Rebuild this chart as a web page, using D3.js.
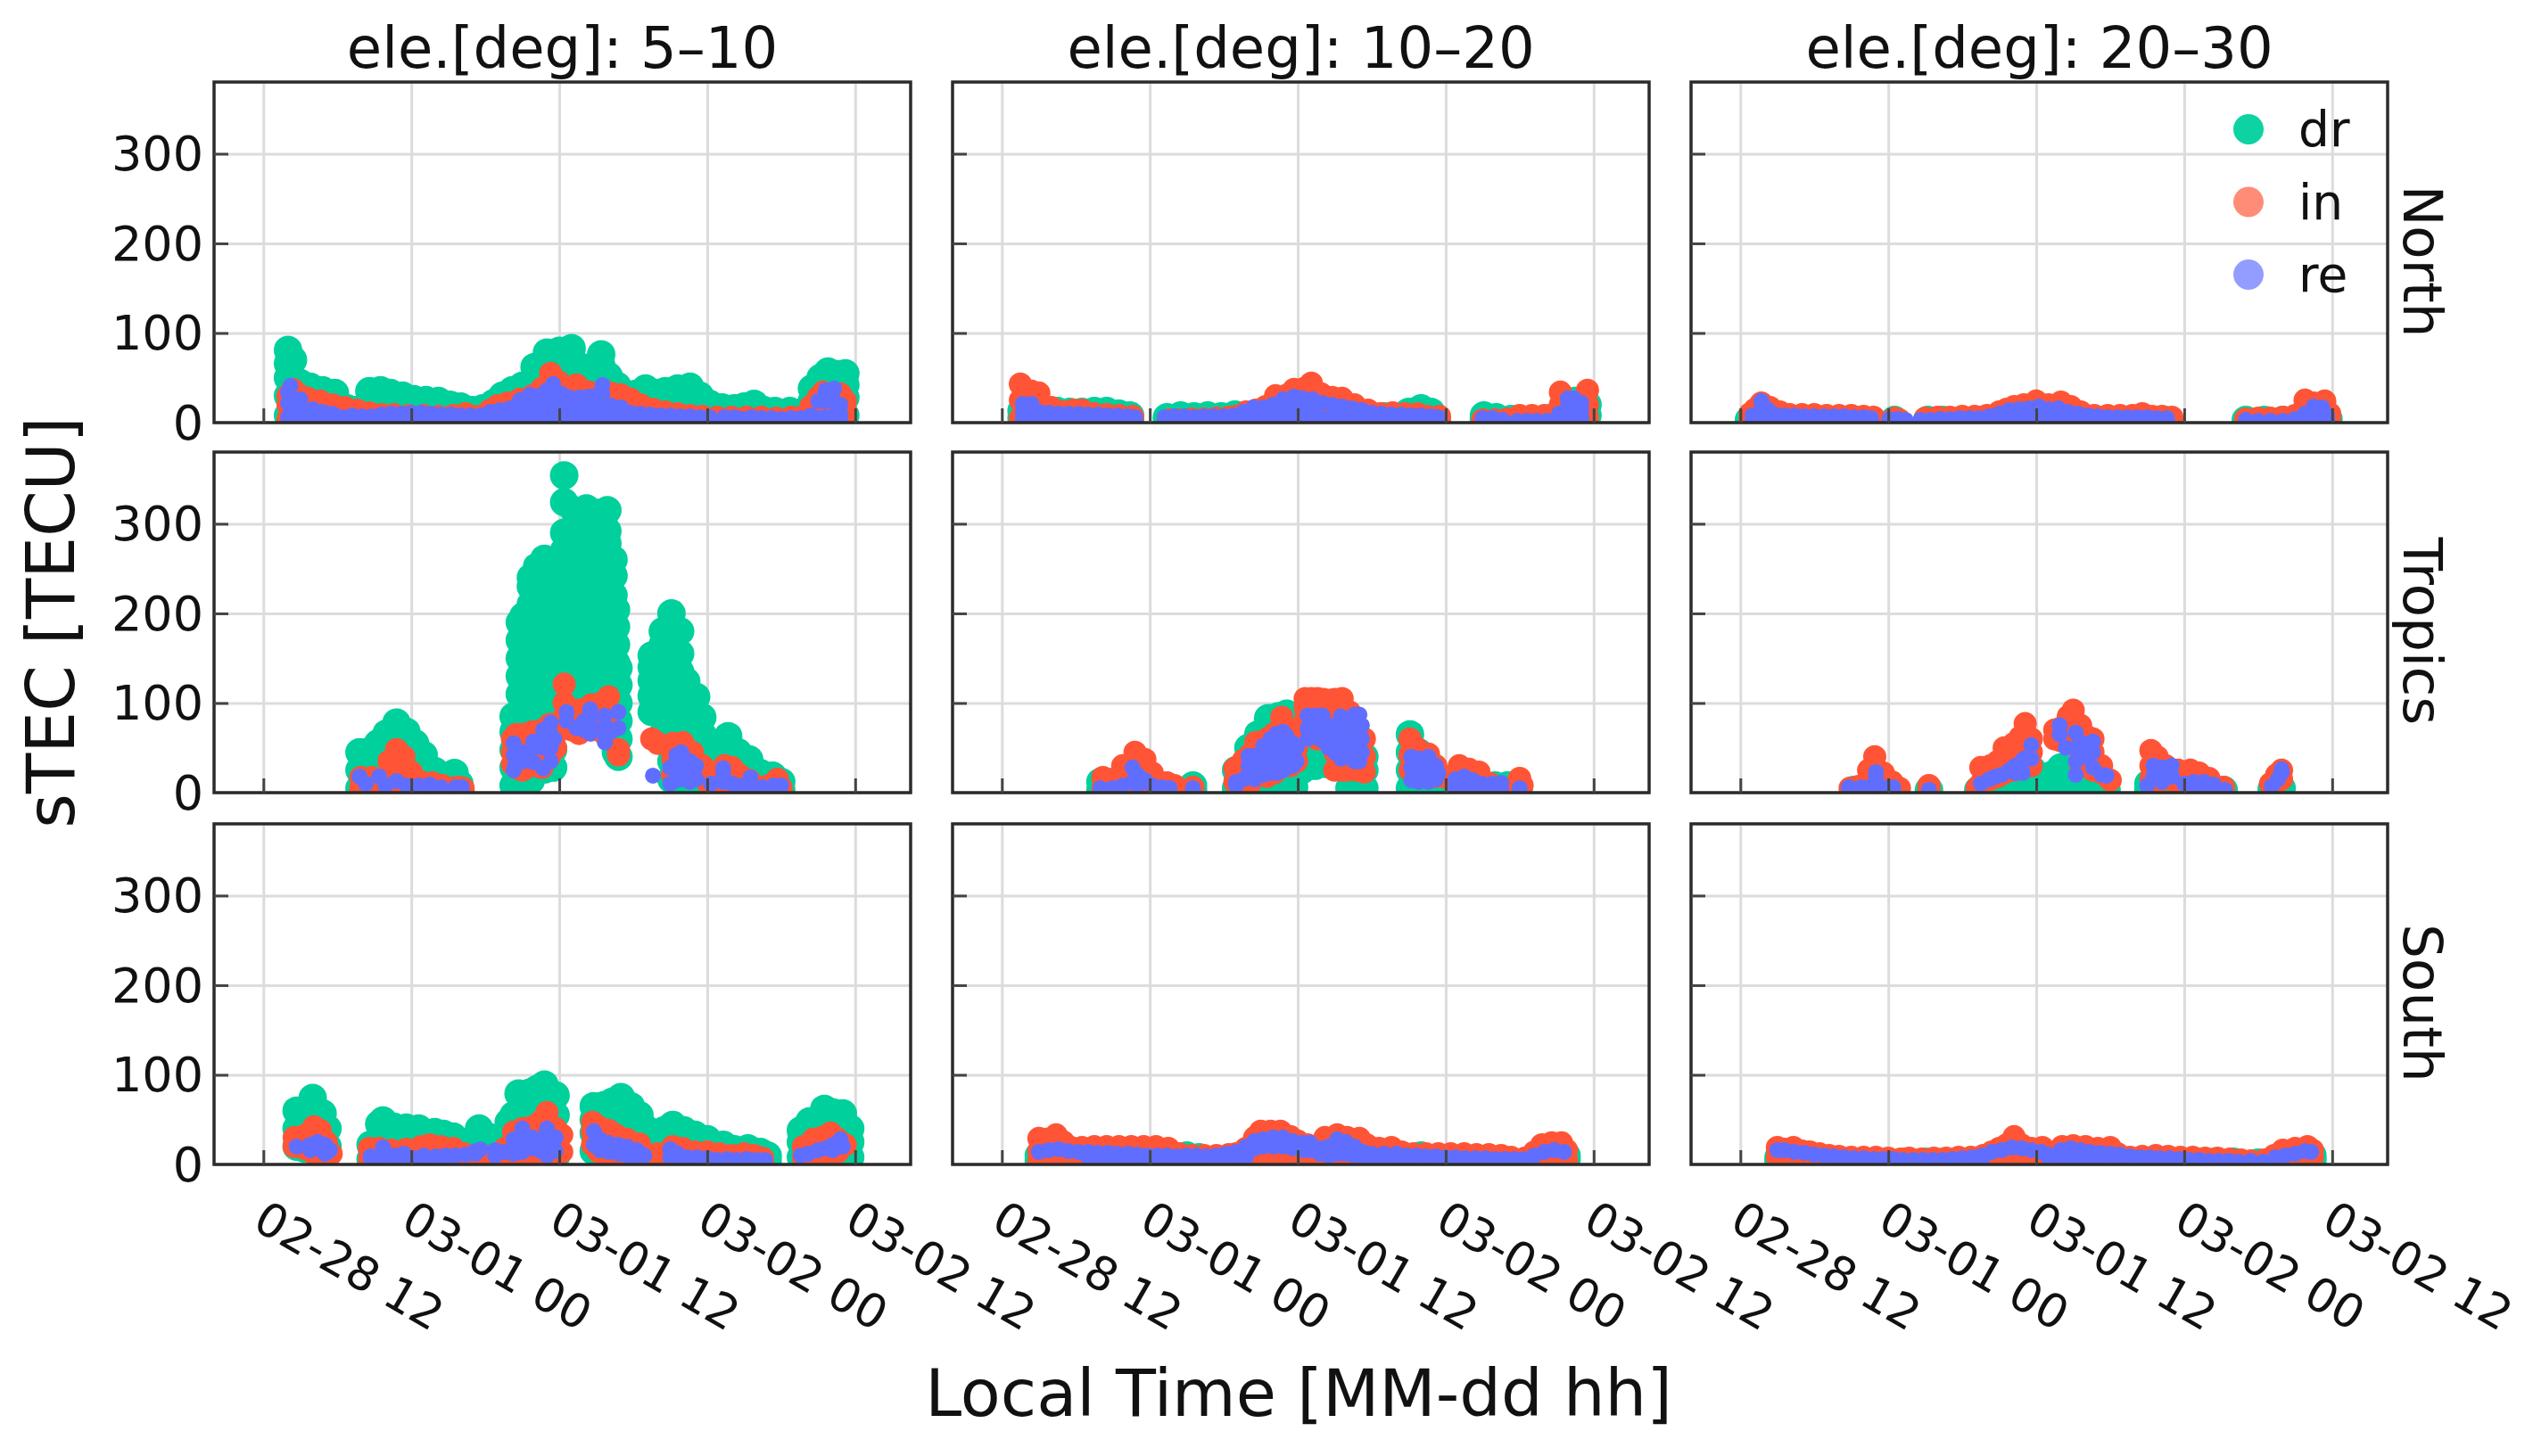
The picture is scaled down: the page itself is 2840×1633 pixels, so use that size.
<!DOCTYPE html>
<html>
<head>
  <title>sTEC</title>
  <style type="text/css">
    body { margin: 0; background: #fff; }
    text { font-family: 'DejaVu Sans', sans-serif; fill: #111; }
  </style>
  <script src="https://cdnjs.cloudflare.com/ajax/libs/d3/7.8.5/d3.min.js" charset="utf-8"></script>
</head>
<body>
<svg id="chart" width="2840" height="1633"></svg>
<script>

  // ====== data: each row is [hours after 02-28 12:00, sTEC values seen at that time]
  var rowNames = ["North", "Tropics", "South"];
  var colNames = ["ele.[deg]: 5\u201310", "ele.[deg]: 10\u201320", "ele.[deg]: 20\u201330"];
  var seriesNames = ["dr", "in", "re"];
  var yTicks = [0, 100, 200, 300];

  var north5dr = [[2,8,30,50,66,81],[2.4,6,30,50,70],[3,6,28,44],[3.8,8,24,40],[4.8,6,24,36],[5.8,7,20,33],[6.8,5,16],[7.4,5,14],[8.6,6,20,35],[9.5,5,20,36],[10.3,7,18,33],[11.3,6,18,30],[12.2,5,26],[13.2,6,25],[14.2,5,24],[15.1,6,20],[16,5,18],[16.9,6,14],[17.8,5,16],[18.7,7,22],[19.4,6,30],[20.2,6,22,36],[21,8,26,41],[22,7,30,50,62],[23,8,30,50,65,78],[24,9,30,50,65,80],[25,7,30,50,66,83],[25.8,10,30,50,62],[26.6,8,30,45,60],[27.4,7,28,50,64,76],[28,8,28,52],[28.7,6,25,41],[29.5,6,20,30],[30.2,7,22,32],[31,5,22,38],[31.8,6,20,33],[32.6,7,20,35],[33.6,5,22,38],[34.6,6,24,40],[35.4,7,20,30],[36.2,6,21],[37.2,5,17],[38.2,6,16],[39,5,18],[39.8,6,21],[40.6,5,14],[41.5,6,13],[42.7,5,13],[43.9,6,13],[44.5,7,24,38],[45.2,8,28,50],[45.8,7,28,45,57],[46.6,6,30,54],[47.2,8,28,42,55]];
  var north5in = [[2,4,20,30],[2.4,6,24,37],[3,5,20,30],[3.6,5,18,27],[4.6,4,14,24],[5.6,4,13,20],[6.6,3,10,17],[7.6,4,14],[8.6,3,11],[9.6,4,9],[10.6,3,9],[11.8,4,8],[13,3,8],[14.2,4,7],[15.4,3,8],[16.4,4,10],[17.4,3,7],[18.4,4,14],[19,4,19],[19.8,4,14,22],[20.8,5,16,26],[21.8,4,18,30],[22.6,5,24,38],[23.3,6,24,42,55],[24,4,20,36,45],[24.8,6,22,36],[25.4,4,22,42],[26.4,5,20,34],[27.6,6,20,36],[28.4,5,18,32],[29,4,16,31],[29.8,5,14,26],[30.6,4,12,20],[31.6,4,15],[32.6,3,12],[33.6,4,10],[34.6,3,8],[35.6,4,7],[36.8,3,6],[38,3,6],[39.2,4,6],[40.4,3,6],[41.6,3,5],[42.8,4,6],[43.6,3,6],[44.4,4,18],[45,4,20,28],[45.4,5,22,34],[46,6,18,28],[46.8,4,22,32],[47.2,4,14,24]];
  var north5re = [[2,6,22,34],[2.2,10,28,41],[3,5,14,26],[3.4,5,10],[4,6,15],[4.8,5,12],[5.6,4,10],[6.4,3,6],[7.2,4,8],[8,3,7],[8.8,4,7],[9.6,3,9],[10.4,4,10],[11.2,3,10],[12,4,11],[12.8,3,11],[13.6,4,10],[14.4,3,9],[15.2,4,9],[16,3,8],[16.8,4,8],[17.6,3,8],[18.4,4,12],[19.2,4,14],[20,5,16],[20.8,5,14,25],[21.6,6,18,31],[22.4,5,16,30],[23,6,20,36],[23.5,6,22,36,43],[24.2,5,18,32],[24.8,6,16,28],[25.6,5,14,28],[26.4,6,18,29],[27,5,18,30],[27.5,4,20,32,42],[28.2,5,12,19],[29,4,12,17],[29.8,5,11],[30.6,4,10],[31.4,4,9],[32.2,3,8],[33,4,8],[33.8,3,7],[34.6,4,7],[35.4,3,6],[36.2,4,6],[37.4,3,6],[38.2,4,6],[38.8,3,4],[39.6,3,6],[40.4,4,5],[41.2,3,5],[42,3,4],[42.8,3,5],[43.6,3,5],[44.4,4,8],[45,5,24],[45.6,6,24,36],[46.3,8,24,38],[46.8,3,10,20]];

  var north10dr = [[1.6,5,13],[2.4,5,14],[3.4,4,12],[4.5,5,13],[5.5,4,12],[6.5,5,12],[7.5,4,13],[8.5,5,13],[9.5,4,10],[10.4,4,8],[13.4,4,6],[14.5,4,8],[15.6,3,7],[16.7,4,8],[17.8,3,7],[18.9,4,9],[20,4,7],[21.5,3,6],[23,4,7],[24.5,4,8],[26,3,7],[27.5,4,6],[29,3,6],[31,4,7],[33,3,12],[34,4,16],[34.8,4,12],[39.1,4,8],[40.1,3,6],[41.3,4],[43,3],[44.5,5],[45.5,10],[46.5,10,24],[47.5,8,20]];
  var north10in = [[1.5,5,25,43],[2.4,6,22,35],[3,6,20,33],[4,5,17],[5,5,12],[5.8,4,14],[6.5,5,14],[7.5,4,10],[8.5,5,9],[9.5,4,8],[10.6,4,7],[13.6,3],[14.4,3],[15.4,3,4],[16.4,4],[17.4,5],[18.4,6],[19,7],[19.8,4,12],[20.6,5,14],[21.4,5,18],[22.2,6,16,30],[23,6,18,30],[23.7,6,20,37],[24.5,6,22,38],[25.1,5,25,44],[25.9,6,20,32],[26.8,5,18,28],[27.6,5,16,27],[28.6,4,20],[29.7,5,14],[30.7,4,10],[31.7,5,11],[32.7,4,10],[33.7,4,10],[34.5,4,7],[35.5,3,7],[39,3],[40,3],[41,4],[42,4,8],[43,3,8],[44,4,8],[44.6,3,8],[45.3,6,20,34],[46.2,4,12],[47.5,6,20,36]];
  var north10re = [[1.7,5,12,21],[2.4,5,18,21],[3,5,12],[3.8,4,11],[4.6,5,10],[5.4,4,10],[6.2,5,10],[7,4,9],[7.8,5,9],[8.6,4,8],[9.4,4,8],[10.2,4,7],[10.8,3,6],[13.2,3,6],[14,3,7],[14.8,3,7],[15.6,3,6],[16.4,3,7],[17.2,3,7],[18,3,7],[18.8,3,8],[19.6,4,12],[20.4,4,17],[21.2,4,17],[22,5,20],[22.8,5,18,26],[23.7,5,20,29],[24.4,5,18,27],[25.2,5,18,26],[26,5,22],[26.8,5,20],[27.6,5,18],[28.4,4,16],[29.2,4,14],[30,4,11],[30.8,4,10],[31.6,4,9],[32.4,4,9],[33.2,4,8],[34,3,8],[34.8,3,7],[35.4,3,6],[39,3,5],[39.8,3,5],[40.6,3],[41.8,2],[42.6,2],[43.4,2],[44.2,2],[45.2,5,10],[45.9,8,18,27],[46.4,6,14,27],[47,5,14,22]];

  var north20dr = [[0.7,3],[2,4],[3.2,3],[4.4,3],[5.6,3],[6.8,3],[8,3],[9,3],[9.8,3],[12.5,3],[15.2,3],[16.4,3],[18,3],[19.5,3],[21,4],[22.5,4],[24,4],[25.5,4],[27,3],[28.5,3],[30,3],[31.5,3],[33,3],[34.4,3],[41,3],[42.5,3],[44,3],[45.5,3],[47,3],[47.7,4]];
  var north20in = [[0.8,4,10],[1.2,5,15],[1.7,5,22],[2.4,5,17],[3.2,4,12],[4,4,9],[5,5,9],[6,4,9],[7,5,8],[8,4,8],[9,5,8],[10,4,7],[10.8,3,6],[12.5,5],[12.9,3],[15,3,5],[16,3,6],[17,4,6],[18,3,7],[19,4,7],[20,4,8],[21,5,12],[21.6,4,15],[22.2,5,18],[23,5,20],[24,5,24],[25,5,20],[26,5,23],[26.8,4,18],[27.6,5,12],[28.7,4,8],[29.8,4,8],[30.8,4,8],[31.8,5,8],[32.6,4,10],[33.4,4,7],[34.2,4,7],[35,3,6],[41,4],[42,5],[43,5],[44,4,6],[45,5,8],[45.8,8,18,25],[46.5,8,18,22],[47.4,8,18,24],[47.8,4,10]];
  var north20re = [[1,3,8],[1.7,5,15,24],[2.2,6,15],[2.8,5,9],[3.6,5,8],[4.4,5,8],[5.2,4,7],[6,5,7],[6.8,4,7],[7.6,4,7],[8.4,5,7],[9.2,4,6],[10,4,6],[10.6,3,5],[12.1,4],[12.8,4],[13.4,3],[14.6,3],[15.4,3],[16.2,4],[17,4],[17.8,5],[18.6,4,5],[19.4,5],[20.2,5,7],[21,5,10],[21.8,5,14],[22.6,5,15],[23.4,5,16],[24.2,5,18],[25,5,15],[25.8,5,16],[26.6,5,12],[27.4,5,10],[28.2,4,8],[29,4,7],[29.8,4,6],[30.6,4,6],[31.4,4,6],[32.2,3,6],[33,4,6],[33.8,3,5],[34.6,3,5],[41,3],[42,2],[43,2],[44,2],[45,4],[45.8,5,10],[46.5,5,12,18],[47.2,5,12,17],[47.6,3,8]];

  var tropics5dr = [[7.8,5,25,45],[8.6,4,24,46],[9.3,6,30,55],[10,5,30,50,66],[10.8,6,30,50,65,78],[11.6,5,28,48,68],[12.3,6,30,55],[13,5,25,42],[13.9,5,24],[14.7,4,18],[15.5,5,22],[15.9,4,10],[20.3,8,28,48,68,85],[20.8,10,30,50,70,90,110,130,150,170,190],[21.1,12,32,52,72,92,112,132,152,172,197],[21.7,14,30,50,70,90,110,130,150,170,190,210,230,240],[22.2,26,45,65,85,105,125,145,165,185,205,225,245,252],[22.8,26,46,66,86,106,126,146,166,186,206,226,246,261],[23.5,28,48,68,88,108,128,148,168,188,208,228,248,258],[24.4,110,130,150,170,190,210,230,250,270,290,324,354],[25.2,75,95,115,135,155,175,195,215,235,255,275,295,315],[26.2,80,100,120,140,160,180,200,220,240,260,280,300,317],[27,80,100,120,140,160,180,200,220,240,260,280,300,312],[27.9,78,98,118,138,158,178,198,218,238,258,278,292,315],[28.4,60,80,100,120,140,160,180,200,220,242,260],[28.6,45,65,85,105,125,145,165,185,204],[28.8,40,60,80,100,120,139],[31.5,90,108,125,140,153],[32.4,65,85,105,125,145,165,180],[33.1,15,35,55,75,95,115,135,155,175,200],[33.8,15,35,55,75,95,115,135,155,180],[34.3,10,30,50,70,90,110,124],[35.1,5,25,45,65,85,107],[35.6,5,25,45,65,84],[36.6,4,22,40],[37.2,5,25,45,55],[37.7,5,25,45,63],[38.5,5,25,45],[39.4,4,20,37],[40.3,5,22],[41.3,4,19],[42,3,12]];
  var tropics5in = [[7.9,5,17],[8.8,4,17],[9.5,3,12],[10.2,6,22,35],[10.8,10,30,48],[11.4,8,25,40],[12,6,23],[12.8,4,12],[13.7,4,11],[14.5,3,8],[15.3,3,5],[15.8,3,6],[16.2,3,5],[20.2,32,45,60],[20.5,28,45,65],[21,25,45,65],[21.8,30,50,68],[22.6,28,50,70],[23.2,40,60,76],[23.7,50,65,76],[24.4,85,100,121],[25,70,85],[25.6,66,80,92],[26.6,70,85,98],[27.4,70,85,100],[27.7,65],[28,75,90,107],[28.8,42,48],[31.5,60],[32,55],[33.2,20,38,55],[34,20,38,56],[34.8,22,38,45],[35.6,18,30],[36,12,20],[36.8,8,20],[37.4,12,30],[38,6,18,28],[38.6,6,20],[39.4,5,14],[40.2,5,6],[41,8],[41.7,6,15],[42,5]];
  var tropics5re = [[7.8,18],[8.3,10],[9.4,18],[9.9,8],[10.8,13],[11.6,8],[12.6,8],[13.5,9],[14.4,6],[15.6,6],[16.1,6],[20.3,25,42,55],[20.4,30],[21.1,35,45],[21.9,34,50,57],[22.7,27,50,62,70],[23.3,35,50,65,78],[23.6,60],[24.6,80,90],[25.4,72],[26,70,80],[26.5,66,75,85,93],[27.7,56,65,75,86],[28.2,68],[28.8,72,90],[31.6,19],[33,10,28],[33.5,14,30,42],[33.9,15,30,45],[34.6,12,25,35],[35.1,15,30],[36.3,10],[37.3,12,20,27],[38,10],[38.5,8],[39.5,8,17],[40.5,6],[41.4,8],[42,8]];

  var tropics10dr = [[8,3,12],[10.2,4,12],[12.9,3,8],[15.5,3,8],[19,5,25],[20,6,30,50],[20.8,8,30,50,65],[21.6,8,30,50,70,83],[22.4,6,26,50,70,85],[23.1,5,30,50,70,88],[23.7,6,30,50,70,84],[24.3,25,45,65],[25.4,30,50,70],[26.4,32,52,70],[27.4,30,50,70],[28.2,5,26,48,68],[29,6,26,46],[29.4,5,25,40],[33.1,5,25,45,65],[33.8,5,25,45],[35,4,22],[36,3,15],[37,3,10],[38,3,10],[39,2,8],[40,3,8],[41,3,8],[41.9,3,5]];
  var tropics10in = [[8.2,5,17],[9,4,15],[9.8,5,22,30],[10.8,8,25,45],[11.6,7,24,37],[12.2,5,22],[13.4,4,11],[14,4,8],[15.5,6],[18.9,12,27],[19.6,8,24,36],[20.1,10,25,42],[20.6,20,38,56],[21.5,18,38,60],[22.1,22,42,66],[22.7,30,50,70,84],[23.4,30,50,70],[23.9,35,50,65],[24.6,80,95,105],[25.1,70,90,105],[25.6,60,80,105],[26.1,70,90,104],[26.6,70,90,103],[27,25,45,65,85,104],[27.6,25,45,60,80,105],[28,25,45,65],[28.2,30,50,70,90],[28.8,25,45,65],[29.4,23,40,60],[33.1,25,42,60],[33.6,20,35,50],[34.6,18,30,43],[35.2,18,30],[36,17],[37.1,5,18,30],[37.9,4,15,26],[38.7,5,23],[39.6,3,10],[41,5],[42,4,16],[42.2,8]];
  var tropics10re = [[8,5],[9,5],[9.8,8],[10.6,12,28],[11,8,20],[11.6,14],[12.2,8],[13,6],[13.6,5],[15.5,5],[19,8,12],[19.6,15],[20,20,30,41],[20.5,15,28,41],[20.8,22,35],[21.2,20,30,45,52],[21.8,22,35,48,60],[22.3,22,35,50,66],[22.8,25,40,55,68],[23.1,28,40,52,63],[23.6,30,42,55],[23.9,35,50],[24.8,60,72,86],[25.4,62,75,86],[26,58,72,86],[26.5,50,62,75],[27,45,58,70],[27.5,38,50,62,75,85],[28,40,50,65],[28.6,35,48,60,75,87],[29,35,50,65,87],[29.2,45,60,75],[33.2,14,28,40],[33.8,12,25,38],[34.6,12,25,40],[35.2,15,30],[35.4,22],[36.8,6,15],[37.5,8,18],[38.2,6,14],[39,5,10],[39.8,5,10],[40.5,5,11],[42,5]];

  var tropics20dr = [[9.2,3],[10,3],[11,4],[12,3],[15.3,3],[19.3,3],[20.2,4],[21,4],[22,4],[23,6,20],[23.7,10,25],[25.3,6,20],[26,8,28],[27,8,26],[28,5,15],[29,4,12],[29.7,3],[33.1,3,10],[34,3,8],[35,3,8],[36,3],[37,3],[38,3],[39.2,3],[43.1,4],[43.5,7],[43.9,5]];
  var tropics20in = [[8.9,5],[9.6,7],[10.4,10,25],[10.9,15,28,40],[11.6,8,22],[12.3,5,12],[12.9,5],[15.3,5,8],[19.2,5],[19.5,10,28],[20.3,15,30],[20.9,18,35],[21.4,22,38,50],[22.2,25,45,55],[22.7,28,48,62],[23.1,30,50,62,77],[23.6,30,45,60],[25.5,60,70],[26,58,72],[26.6,55,72,85],[27,60,80,92],[27.6,30,45,60,75],[28.2,30,50,62],[28.6,25,45,60],[29.3,22,30],[30,14],[33.3,15,30,47],[33.8,12,28,40],[34.5,15,30],[35.5,10,25],[36.5,8,25],[37.2,8,22],[38,8,16],[39.2,6],[43,10],[43.5,12,20],[43.9,15,25]];
  var tropics20re = [[8.8,6],[9.8,6],[10.6,7],[11,10,16,23],[11.9,6],[12.4,6],[15.3,3],[19.5,10],[20.2,15],[20.7,18],[21.2,20],[21.8,25],[22.3,22,30],[22.9,22,35],[23,38],[23.6,38,53],[25.9,65,75],[26.4,50],[27.2,20,35,50,67],[27.8,40,55],[28.6,28,45,57],[29.3,20],[29.7,19],[33,8],[33.5,18,30],[34.2,12,28],[35,18,30],[36,10],[36.8,9,12],[37.6,8,12],[38.4,9],[39.3,3],[43.1,7],[43.6,15],[43.9,22,26]];

  var south5dr = [[2.7,20,40,60],[3.3,18,40,60],[4,20,40,60,74],[4.8,22,40,57],[5.2,20,40],[8.7,6,22],[9.4,6,25,45],[9.7,8,30,49],[10.6,6,28,42],[11.6,8,26,41],[12.6,6,24,40],[13.9,7,25,36],[14.6,6,22,34],[15.4,5,20,31],[16.5,6,18,25],[17.5,8,25,40],[18.4,6,20,30],[19.9,8,28,47],[20.3,10,30,55],[20.7,12,35,55,79],[21.6,10,35,60,80],[22.2,8,30,55,84],[22.8,10,35,60,89],[23.7,8,30,55,77],[26.8,15,35,50,65],[27.6,14,32,50,66],[28.3,12,30,50,70],[29,12,30,55,75],[29.8,8,30,50,65],[30.5,8,25,45,55],[31,6,25,40],[32.5,6,25,38],[33.2,6,25,44],[34.1,6,22,38],[35,6,20,33],[36,5,20,28],[37.3,5,22],[38.2,5,17],[39.3,5,18],[40.3,5,14],[40.9,4,10],[43.6,8,25,38],[44.3,10,28,48],[45.5,8,30,50,62],[46.2,10,30,50,58],[47,10,30,50,57],[47.6,8,25,40]];
  var south5in = [[2.5,20,30],[3.3,18,32],[4.1,12,30,42],[4.6,12,28,38],[5.1,8,25],[5.5,12],[8.6,6,18],[9.4,6,18],[10.4,6,16],[11.6,6,17],[12.8,8,20],[13.5,8,22],[14.4,8,20],[15.4,6,18],[16.3,6,12],[17.6,5,10],[18.6,5,10],[19.6,5,18],[20.3,5,20,36],[21,5,22,40],[21.8,6,25,42],[22.5,6,28,48],[23,25,42,58],[23.7,10,30,40],[24.2,14,33],[26.7,22,36,47],[27.2,14,30,42],[28,12,28,38],[28.6,10,25,33],[29.5,10,25,28],[30.5,8,20,23],[31,8,12],[32,3,12],[33.2,6,20],[34,6,18],[35,5,14],[36,4,14],[37,5,12],[38,4,10],[39,6,12],[39.8,4,10],[40.5,3,7],[43.8,8,20],[44.6,8,22,28],[45.3,8,22,30],[46,10,24,35],[46.6,14,28],[47.2,22]];
  var south5re = [[2.7,20],[3.8,16,22],[4.4,18,25],[5,12,22],[5.4,16],[8.7,7,9],[9.7,7,14,19],[10.6,7,10],[11.4,8,12],[12.2,7],[13,8,10],[14,8,9],[14.8,9,10],[15.6,10],[16.4,11],[17.2,12,15],[17.6,17],[18.8,10,16],[19.6,14],[20.3,12,20,28],[21,14,28,40],[21.8,18,30],[22.5,15,28],[23,10,25,40],[23.7,15,30],[26.8,22,37],[27.3,16,28],[28,14,24],[28.8,12,22],[29.5,10,20],[30.3,9,16],[30.9,10],[33,8,17],[33.6,6,12],[34.4,5,8],[35.2,6,8],[36,5,7],[36.8,5],[37.6,6],[38.4,5],[39.2,5,6],[40,5],[40.7,5],[43.6,10],[44.2,12],[45,16],[45.6,18],[46.2,16,22],[46.8,22,28],[47,20]];

  var south10dr = [[3,4,10],[4,3,8],[5,3,6],[6,3],[7.4,3],[9,3],[10.6,3],[12,3],[13.5,4],[15,6,10],[16,5,8],[17.4,3],[19,3],[20.5,3],[22,4],[23.2,5],[24.4,6],[25.6,5],[26.6,4],[28,3],[29.5,4],[31,4],[32.5,5,10],[34,5,10],[35,4],[36.5,3],[38,3],[39.5,3],[41,3],[42.5,3],[44,4],[45,5,8],[45.8,6,10]];
  var south10in = [[3,4,15,29],[3.6,4,18,28],[4.4,4,20,33],[5,4,14,25],[5.6,3,12,19],[6.5,3,19],[7.5,4,20],[8.5,4,20],[9.5,3,20],[10.5,4,20],[11.5,4,20],[12.5,4,20],[13.5,5,18],[14.4,5,12],[15.4,5,10],[16.4,5,10],[17.4,4,10],[18.4,4,11],[19,5,12],[19.8,4,18],[20.5,4,20,30],[21,12,22,37],[21.8,12,20,37],[22.6,12,22,37],[23.4,12,20,31],[24,12,20,26],[24.8,10,14,22],[25.6,5,12,20],[26.2,3,18,30],[27.2,5,20,33],[28,5,22,30],[29,5,16,29],[29.6,5,15,22],[30.6,6,18],[31.6,5,19],[32.4,5,14],[33.4,5,12],[34.4,4,12],[35.4,4,12],[36.4,4,12],[37.5,4,12],[38.5,4,11],[39.5,5,11],[40.5,4,10],[41.3,5,8],[42.4,5,7],[43.2,5,14],[43.8,6,22],[44.6,8,24],[45.4,8,24],[45.8,5,16]];
  var south10re = [[3,14],[3.8,16],[4.6,17],[5.4,15],[6.2,14],[7,8,14],[7.8,8,13],[8.6,8,13],[9.4,8,12],[10.2,8,12],[11,8,11],[11.8,8,10],[12.6,8,10],[13.4,7,10],[14.2,6,9],[15,5,10],[15.8,5,10],[16.6,5,9],[17.4,5,10],[18.2,5,12],[19,5,14],[19.8,8,20],[20.5,18,26],[21.2,20,28],[22,20,30],[22.8,20,30],[23.6,18,26],[24.4,16,24],[25,16,24],[25.8,12,18],[26.5,10,20],[27.2,12,28],[27.9,12,25],[28.6,10,20],[29.3,10,14],[30,8,12],[31,7,12],[32,6,12],[32.8,5,10],[33.6,5,10],[34.4,5,9],[35.2,5,9],[36,5,8],[36.8,5,8],[37.6,5,7],[38.4,4,7],[39.2,4,7],[40,4,6],[40.8,4,6],[41.6,3,6],[42.4,4,6],[43.2,10],[44,14],[44.8,16],[45.6,14]];

  var south20dr = [[3.1,4,8],[4,3,6],[5,3],[6,3],[7.5,3],[9,3],[10.5,3],[12,3],[13.5,3],[15,3],[16.5,3],[18,3],[19.5,3],[21,5,10],[22.2,8,14],[23.2,10],[24.4,5,14],[25,4],[26.5,3],[28,3],[29.5,3],[31,3],[32.5,3],[34,3],[35.5,3],[37,3],[38.5,3],[40,3],[42,2],[43.5,3],[45,4],[46.4,5,10]];
  var south20in = [[3,8,19],[3.6,8,17],[4.3,6,19],[5,5,15],[5.6,4,14],[6.4,3,12],[7.2,4,10],[8,3,9],[9,8],[10,6,8],[11,5,8],[12,5,7],[13,5,6],[13.7,4,7],[14.7,5,6],[15.7,5,7],[16.7,5,7],[17.7,6,8],[18.7,6,8],[19.7,6,10],[20.4,10,14],[21,10,18],[21.6,10,22],[22.2,12,31],[22.8,10,22],[23.6,12,18],[24.5,10,19],[25.2,8,12],[26.1,6,20],[27,5,21],[28,4,20],[29,4,18],[30,4,19],[30.6,4,12],[31.6,4,8],[32.6,4,9],[33.7,4,10],[34.7,4,9],[35.7,4,8],[36.7,3,8],[37.7,4,7],[38.7,3,7],[39.7,3,6],[40.6,3,5],[41.4,4],[42.5,5],[43.3,5,10],[44,5,16],[45,8,18],[46,8,20],[46.4,8,16]];
  var south20re = [[3,16],[3.6,16],[4.4,14],[5.2,13],[6,11],[6.8,10],[7.6,9],[8.4,8],[9.2,5,7],[10,5,7],[10.8,5,6],[11.6,5,6],[12.4,5,6],[13.2,4,5],[14,4,5],[14.8,4,5],[15.6,4,5],[16.4,5],[17.2,5,6],[18,5,7],[18.8,6,8],[19.6,6,10],[20.4,14],[21.2,16],[22,19],[22.8,18],[23.6,16],[24.4,14],[25,8,11],[26,8,16],[26.8,8,18],[27.6,8,16],[28.4,7,14],[29.2,6,13],[30,6,12],[30.8,5,11],[31.6,5,9],[32.4,4,8],[33.2,4,8],[34,4,7],[34.8,4,7],[35.6,4,6],[36.4,3,5],[37.2,3,5],[38,3,4],[38.8,3,4],[39.6,3,4],[40.4,3],[41.4,3,4],[42.4,3],[43.4,8],[44.2,10],[45,12],[45.8,15],[46.3,14]];

  var panels = [
    [[north5dr, north5in, north5re], [north10dr, north10in, north10re], [north20dr, north20in, north20re]],
    [[tropics5dr, tropics5in, tropics5re], [tropics10dr, tropics10in, tropics10re], [tropics20dr, tropics20in, tropics20re]],
    [[south5dr, south5in, south5re], [south10dr, south10in, south10re], [south20dr, south20in, south20re]]
  ];

  // ====== layout
  var colX = [240, 1068, 1896], panelW = 781;
  var rowY = [92, 507, 924], panelH = 382;
  var colors = { dr: "#00d09c", "in": "#ff5536", re: "#606eff" };
  var radius = { dr: 16, "in": 13, re: 9 };

  var tickStart = Date.UTC(2022, 1, 28, 12);
  var x = d3.scaleUtc()
    .domain([new Date(Date.UTC(2022, 1, 28, 8)), new Date(Date.UTC(2022, 2, 2, 16, 30))])
    .range([0, panelW]);
  var y = d3.scaleLinear().domain([0, 380]).range([panelH, 0]);
  var xTicks = d3.utcHour.every(12).range(new Date(Date.UTC(2022, 1, 28, 12)), new Date(Date.UTC(2022, 2, 2, 13)));

  var svg = d3.select("#chart");

  rowNames.forEach(function (rowName, r) {
    colNames.forEach(function (colName, c) {
      var g = svg.append("g").attr("transform", "translate(" + colX[c] + "," + rowY[r] + ")");
      var clipId = "clip-" + r + "-" + c;
      g.append("clipPath").attr("id", clipId).append("rect").attr("width", panelW).attr("height", panelH);

      // grid
      var gridX = g.append("g").attr("transform", "translate(0," + panelH + ")")
        .call(d3.axisBottom(x).tickValues(xTicks).tickSize(-panelH).tickFormat(""));
      var gridY = g.append("g")
        .call(d3.axisLeft(y).tickValues(yTicks).tickSize(-panelW).tickFormat(""));
      [gridX, gridY].forEach(function (a) {
        a.select(".domain").remove();
        a.selectAll("line").attr("stroke", "#dcdcdc").attr("stroke-width", 3);
      });

      // points, one layer per series
      seriesNames.forEach(function (name, s) {
        var pts = panels[r][c][s].flatMap(function (d) {
          return d.slice(1).map(function (v) { return { h: d[0], v: v }; });
        });
        g.append("g").attr("clip-path", "url(#" + clipId + ")")
          .selectAll("circle").data(pts).enter().append("circle")
          .attr("cx", function (d) { return x(new Date(tickStart + d.h * 3600000)); })
          .attr("cy", function (d) { return y(d.v); })
          .attr("r", radius[name])
          .attr("fill", colors[name]);
      });

      // frame and ticks on top
      g.append("rect").attr("width", panelW).attr("height", panelH)
        .attr("fill", "none").attr("stroke", "#2b2b2b").attr("stroke-width", 3.5);

      var tickX = g.append("g").attr("transform", "translate(0," + panelH + ")")
        .call(d3.axisBottom(x).tickValues(xTicks).tickSize(-16).tickFormat(""));
      var tickY = g.append("g")
        .call(d3.axisLeft(y).tickValues(yTicks.slice(1)).tickSize(-16).tickFormat(""));
      [tickX, tickY].forEach(function (a) {
        a.select(".domain").remove();
        a.selectAll("line").attr("stroke", "#444").attr("stroke-width", 3);
      });

      if (c == 0) {
        g.selectAll(".ylab").data(yTicks).enter().append("text")
          .attr("class", "ylab")
          .attr("x", -12)
          .attr("y", function (d) { return y(d) + 19; })
          .attr("text-anchor", "end")
          .attr("font-size", 54)
          .text(function (d) { return d; });
      }
      if (r == 2) {
        var fmt = d3.utcFormat("%m-%d %H");
        g.selectAll(".xlab").data(xTicks).enter().append("text")
          .attr("class", "xlab")
          .attr("transform", function (d) { return "translate(" + (x(d) - 14) + "," + (panelH + 71) + ") rotate(30)"; })
          .attr("font-size", 52)
          .text(function (d) { return fmt(d); });
      }
      if (r == 0) {
        g.append("text").attr("x", panelW / 2).attr("y", -16)
          .attr("text-anchor", "middle").attr("font-size", 64).text(colName);
      }
      if (c == 2) {
        g.append("text")
          .attr("transform", "translate(" + (panelW + 18) + "," + (panelH / 2 + 10) + ") rotate(90)")
          .attr("text-anchor", "middle").attr("font-size", 61).text(rowName);
      }
    });
  });

  // ====== legend
  var legend = svg.append("g").attr("transform", "translate(2521,145)");
  var legendRow = legend.selectAll("g").data(seriesNames).enter().append("g")
    .attr("transform", function (d, i) { return "translate(0," + i * 81.5 + ")"; });
  legendRow.append("circle").attr("r", 17)
    .attr("fill", function (d) { return colors[d]; })
    .attr("opacity", function (d) { return d == "dr" ? 0.95 : 0.68; });
  legendRow.append("text").attr("x", 56).attr("y", 19).attr("font-size", 55)
    .text(function (d) { return d; });

  // ====== axis titles
  svg.append("text").attr("transform", "translate(83,698) rotate(-90)")
    .attr("text-anchor", "middle").attr("font-size", 74).text("sTEC [TECU]");
  svg.append("text").attr("x", 1456).attr("y", 1588)
    .attr("text-anchor", "middle").attr("font-size", 73.5).text("Local Time [MM-dd hh]");

</script>
</body>
</html>
